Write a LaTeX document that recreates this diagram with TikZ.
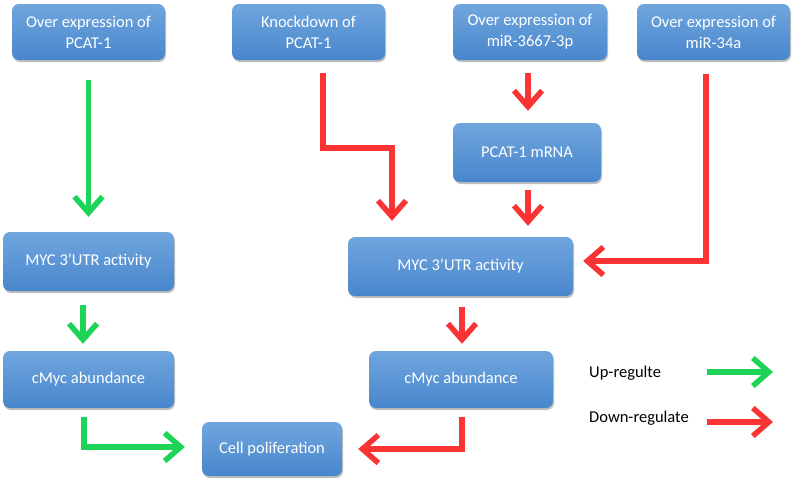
\documentclass[tikz,border=0pt]{standalone}
\usepackage{fontspec}
\setmainfont{Carlito}
\usetikzlibrary{arrows.meta,shadows}
\definecolor{upgreen}{RGB}{30,212,88}
\definecolor{downred}{RGB}{250,52,52}
\definecolor{boxtop}{RGB}{112,166,222}
\definecolor{boxbot}{RGB}{72,134,204}
\begin{document}
\begin{tikzpicture}[x=1pt,y=-1pt,
  box/.style={rectangle, rounded corners=7pt, top color=boxtop, bottom color=boxbot,
    draw=none, text=white, align=center, font=\fontsize{16.5}{21}\selectfont,
    inner sep=0pt, drop shadow={shadow xshift=1pt, shadow yshift=-2pt, opacity=0.25, fill=black}},
  legtext/.style={anchor=west, inner sep=0pt, font=\fontsize{16.5}{21}\selectfont},
  conn/.style={line width=5.5pt, -{Straight Barb[length=16pt,width=28pt,line width=5.5pt]}},
  up/.style={conn, draw=upgreen},
  down/.style={conn, draw=downred}]
\useasboundingbox (0,0) rectangle (794,480);
\fill[white] (0,0) rectangle (794,480);

\node[box, minimum width=153pt, minimum height=56pt] (b1) at (88.5,32) {Over expression of\\PCAT-1};
\node[box, minimum width=153pt, minimum height=56pt] (b2) at (308.5,32) {Knockdown of\\PCAT-1};
\node[box, minimum width=154pt, minimum height=56pt] (b3) at (530,32) {Over expression of\\miR-3667-3p};
\node[box, minimum width=153pt, minimum height=56pt] (b4) at (713.5,32) {Over expression of\\miR-34a};
\node[box, minimum width=148pt, minimum height=59pt] (mrna) at (527,152.5) {PCAT-1 mRNA};
\node[box, minimum width=171pt, minimum height=59pt] (mycl) at (88.5,261.5) {MYC 3’UTR activity};
\node[box, minimum width=171pt, minimum height=57pt] (cmycl) at (88.5,379.5) {cMyc abundance};
\node[box, minimum width=140pt, minimum height=54pt] (cell) at (272,449) {Cell poliferation};
\node[box, minimum width=225pt, minimum height=59pt] (mycr) at (460.5,266.5) {MYC 3’UTR activity};
\node[box, minimum width=184pt, minimum height=57pt] (cmycr) at (461,379.5) {cMyc abundance};

\node[legtext] (lup) at (589,373) {Up-regulte};
\node[legtext] (ldown) at (589,418) {Down-regulate};
\coordinate (lupA) at (707,372);
\coordinate (lupB) at (773,372);
\coordinate (ldownA) at (707,422);
\coordinate (ldownB) at (773,422);

% left column
\draw[up, shorten <=20pt, shorten >=15pt] (b1.south) -- (b1.south |- mycl.north);
\draw[up, shorten <=14pt, shorten >=7pt] ([xshift=-5.5pt]mycl.south) -- ([xshift=-5.5pt]cmycl.north);
\draw[up, shorten <=9pt, shorten >=17pt] ([xshift=-4.5pt]cmycl.south) |- ([yshift=2pt]cell.west);

% right part
\draw[down, shorten <=13pt, shorten >=16pt] ([xshift=14.5pt]b2.south) -- ++(0,88) -| ([xshift=-68.5pt]mycr.north);
\draw[down, shorten <=13pt, shorten >=12pt] ([xshift=-2pt]b3.south) -- ([xshift=1pt]mrna.north);
\draw[down, shorten <=8pt, shorten >=11pt] ([xshift=1pt]mrna.south) -- ([xshift=67.5pt]mycr.north);
\draw[down, shorten <=14pt, shorten >=10pt] ([xshift=-7.5pt]b4.south) |- ([yshift=5.5pt]mycr.east);
\draw[down, shorten <=11pt, shorten >=7pt] ([xshift=1.5pt]mycr.south) -- ([xshift=1pt]cmycr.north);
\draw[down, shorten <=9pt, shorten >=16pt] ([xshift=1pt]cmycr.south) |- (cell.east);

% legend
\draw[up] (lupA) -- (lupB);
\draw[down] (ldownA) -- (ldownB);
\end{tikzpicture}
\end{document}
